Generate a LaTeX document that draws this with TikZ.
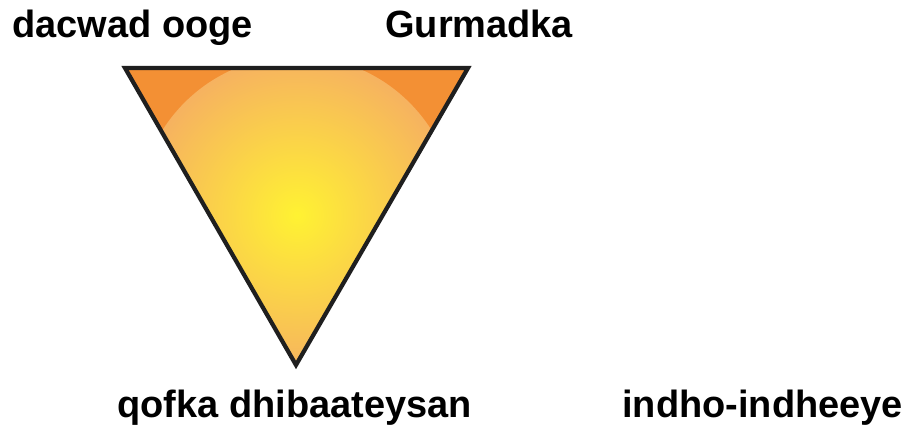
\documentclass[tikz,border=0pt]{standalone}
\usepackage{fontspec}
\setmainfont{Liberation Sans}
\definecolor{dreieckorange}{RGB}{243,144,52}
\definecolor{kernGelb}{RGB}{255,242,50}
\definecolor{randOrange}{RGB}{246,178,96}
\begin{document}
\begin{tikzpicture}[
      font=\fontsize{21.6}{24}\selectfont\bfseries,
      rolle/.style={anchor=base west, inner sep=0pt},
      kante/.style={line width=2.4pt, line join=miter, draw=black!88}
    ]
      \useasboundingbox (0,0) rectangle (18.26,8.56);
      \coordinate (ol) at (2.50,7.20);
      \coordinate (or) at (9.36,7.20);
      \coordinate (u) at (5.92,1.26);
      % Flaeche mit Verlauf
      \begin{scope}
        \clip (ol) -- (or) -- (u) -- cycle;
        \fill[dreieckorange] (ol) -- (or) -- (u) -- cycle;
        \shade[inner color=kernGelb, outer color=randOrange] (5.94,4.26) circle (3.18);
      \end{scope}
      \draw[kante] (ol) -- (or) -- (u) -- cycle;

      \node[rolle] (klaeger) at (0.24,7.82) {dacwad ooge};
      \node[rolle] (gurmad) at (7.70,7.82) {Gurmadka};
      \node[rolle] (dhibane) at (2.34,0.22) {qofka dhibaateysan};
      \node[rolle] (markhaati) at (12.44,0.22) {indho-indheeye};
    \end{tikzpicture}
\end{document}
